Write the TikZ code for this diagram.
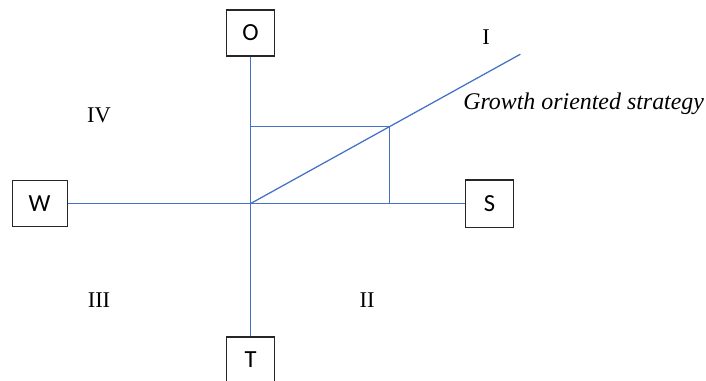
\documentclass[tikz,border=0pt]{standalone}
\usepackage{fontspec}
\setmainfont{Liberation Serif}
\newfontfamily\boxfont{Carlito}
\usepackage{xcolor}
\usetikzlibrary{calc}
\definecolor{axisblue}{HTML}{4472C4}

\tikzset{
  letterbox/.style={draw=black!85, line width=0.8pt, minimum width=1.2cm, minimum height=1.15cm,
    inner sep=0pt, font=\boxfont\fontsize{17.5}{20}\selectfont},
  quadrant/.style={font=\fontsize{16}{19}\selectfont, inner sep=0pt},
  axis/.style={axisblue, line width=0.9pt}
}

\begin{document}
\begin{tikzpicture}
    \useasboundingbox (0,0) rectangle (17.65,9.5);
    % Boxes at the ends of the axes
    \node[letterbox] (O) at (6.2625,8.675) {O};
    \node[letterbox] (T) at (6.2625,0.5) {T};
    \node[letterbox, minimum width=1.375cm] (W) at (0.99,4.41) {W};
    \node[letterbox, minimum height=1.18cm] (S) at (12.24,4.41) {S};
    % Axes
    \draw[axis] (O) -- (T);
    \draw[axis] (W) -- (S);
    \coordinate (M) at (O |- W);
    % Growth line and its rectangle
    \coordinate (P) at (9.74,6.335);
    \coordinate (E) at ($(M)!1.94!(P)$);
    \draw[axis] (M) -- (E);
    \draw[axis] (M |- P) -- (P) -- (P |- M);
    % Quadrants
    \node[quadrant] (q1) at (12.15,8.575) {I};
    \node[quadrant] (q2) at (9.175,1.99) {II};
    \node[quadrant] (q3) at (2.475,1.99) {III};
    \node[quadrant] (q4) at (2.475,6.61) {IV};
    \node[quadrant, anchor=base west, font=\fontsize{17}{20}\selectfont] (growth) at (11.575,6.75) {\itshape Growth oriented strategy};
  \end{tikzpicture}
\end{document}
